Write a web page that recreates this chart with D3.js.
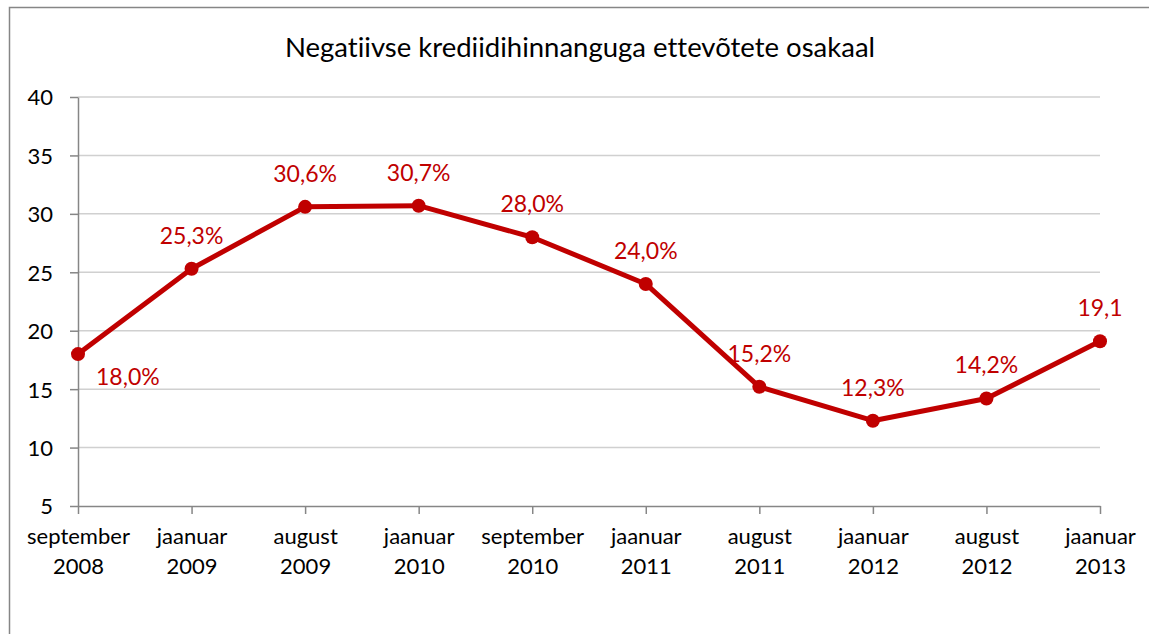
<!DOCTYPE html>
<html>
<head>
<meta charset="utf-8">
<script src="https://cdn.jsdelivr.net/npm/d3@7"></script>
<style>
  body { margin: 0; background: #fff; }
  svg { display: block; font-family: Lato, "Open Sans", sans-serif; font-variant-ligatures: none; }
  .axis path, .axis line { stroke: #868686; stroke-width: 1.5px; }
  .axis text { fill: #000; font-size: 22px; font-family: Lato, "Open Sans", sans-serif; }
  .grid line { stroke: #d0d0d0; stroke-width: 1.5px; }
</style>
</head>
<body>
<div id="chart"></div>
<script>
var months = ["september", "jaanuar", "august", "jaanuar", "september", "jaanuar", "august", "jaanuar", "august", "jaanuar"];
var years  = ["2008", "2009", "2009", "2010", "2010", "2011", "2011", "2012", "2012", "2013"];
var values = [18.0, 25.3, 30.6, 30.7, 28.0, 24.0, 15.2, 12.3, 14.2, 19.1];
var labels = ["18,0%", "25,3%", "30,6%", "30,7%", "28,0%", "24,0%", "15,2%", "12,3%", "14,2%", "19,1"];
var yTicks = [5, 10, 15, 20, 25, 30, 35, 40];
var title  = "Negatiivse krediidihinnanguga ettevõtete osakaal";

var W = 1149, H = 634;
var margin = {top: 97, right: 49, bottom: 128, left: 78},
  width = W - margin.left - margin.right,
  height = H - margin.top - margin.bottom;

var svg = d3.select("#chart").append("svg")
  .attr("width", W)
  .attr("height", H);

// chart border (runs off right/bottom)
svg.append("rect")
  .attr("x", 9.5).attr("y", 7.5)
  .attr("width", W + 10).attr("height", H + 10)
  .attr("fill", "none")
  .attr("stroke", "#868686")
  .attr("stroke-width", 1.5);

svg.append("text")
  .attr("x", 580)
  .attr("y", 57)
  .attr("text-anchor", "middle")
  .style("font-size", "27.5px")
  .text(title);

var g = svg.append("g")
  .attr("transform", "translate(" + margin.left + "," + margin.top + ")");

var idx = d3.range(values.length);

var x = d3.scalePoint()
  .domain(idx)
  .range([0, width]);

var y = d3.scaleLinear()
  .domain([5, 40])
  .range([height, 0]);

g.append("g")
  .attr("class", "grid")
  .selectAll("line")
  .data(yTicks.slice(1))
  .enter().append("line")
  .attr("x1", 0).attr("x2", width)
  .attr("y1", function(d) { return y(d); })
  .attr("y2", function(d) { return y(d); });

var yAxis = g.append("g")
  .attr("class", "axis")
  .call(d3.axisLeft(y).tickValues(yTicks).tickSize(8).tickPadding(17).tickSizeOuter(0));
yAxis.selectAll("text").attr("dy", "0.36em");

var xAxis = g.append("g")
  .attr("class", "axis")
  .attr("transform", "translate(0," + height + ")")
  .call(d3.axisBottom(x).tickSize(8).tickSizeOuter(0).tickFormat(""));

var xl = xAxis.selectAll(".tick").append("text")
  .attr("text-anchor", "middle")
  .attr("fill", "#000");
xl.append("tspan").attr("x", 0).attr("y", 38).text(function(d) { return months[d]; });
xl.append("tspan").attr("x", 0).attr("y", 68).text(function(d) { return years[d]; });

var line = d3.line()
  .x(function(d) { return x(d); })
  .y(function(d) { return y(values[d]); });

g.append("path")
  .datum(idx)
  .attr("d", line)
  .attr("fill", "none")
  .attr("stroke", "#C00000")
  .attr("stroke-width", 5)
  .attr("stroke-linejoin", "round");

g.selectAll(".dot")
  .data(idx)
  .enter().append("circle")
  .attr("class", "dot")
  .attr("cx", function(d) { return x(d); })
  .attr("cy", function(d) { return y(values[d]); })
  .attr("r", 7)
  .attr("fill", "#C00000");

// data labels: first one sits right-below the point
g.selectAll(".lbl")
  .data(idx)
  .enter().append("text")
  .attr("class", "lbl")
  .attr("x", function(d) { return d === 0 ? x(d) + 18 : x(d); })
  .attr("y", function(d) { return d === 0 ? y(values[d]) + 31 : y(values[d]) - 25; })
  .attr("text-anchor", function(d) { return d === 0 ? "start" : "middle"; })
  .attr("fill", "#C00000")
  .style("font-size", "23px")
  .text(function(d) { return labels[d]; });
</script>
</body>
</html>
